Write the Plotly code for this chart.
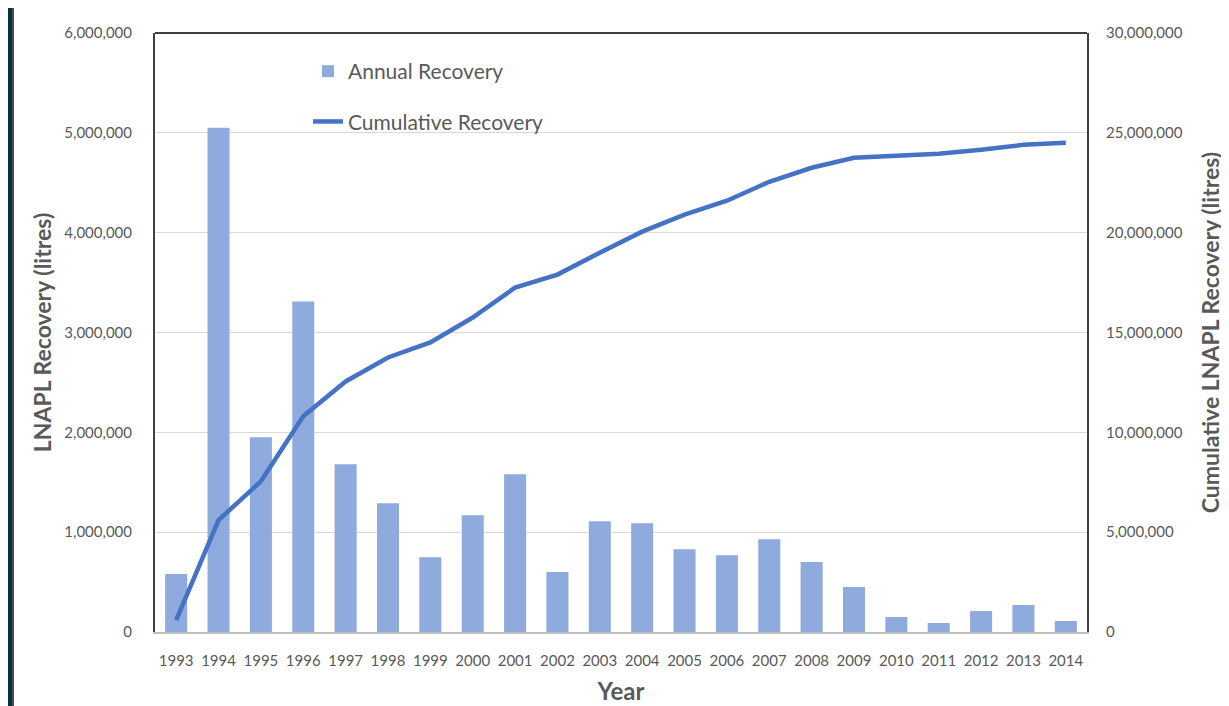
import plotly.graph_objects as go

BAR_COLOR = "#8FAADC"
LINE_COLOR = "#4472C4"
TEXT = "#595959"
FRAME = "#03343F"

years = [str(y) for y in range(1993, 2015)]

annual_recovery = [
    580000, 5050000, 1950000, 3310000, 1680000, 1290000, 750000, 1170000,
    1580000, 600000, 1110000, 1090000, 830000, 770000, 930000, 700000,
    450000, 150000, 90000, 210000, 270000, 110000,
]

cumulative_recovery = [
    600000, 5600000, 7550000, 10800000, 12550000, 13750000, 14500000, 15750000,
    17250000, 17900000, 19000000, 20050000, 20900000, 21600000, 22550000, 23250000,
    23750000, 23850000, 23950000, 24150000, 24400000, 24500000,
]

fig = go.Figure()

fig.add_trace(go.Bar(
    x=years,
    y=annual_recovery,
    name="Annual Recovery",
    marker=dict(color=BAR_COLOR, line=dict(width=0)),
    legendgroup="a",
))

fig.add_trace(go.Scatter(
    x=years,
    y=cumulative_recovery,
    name="Cumulative Recovery",
    mode="lines",
    line=dict(color=LINE_COLOR, width=4.5),
    yaxis="y2",
    legendgroup="b",
))

# page body has an 8px margin, so the figure is drawn 8px in from the corner
OFF = 8
W, H = 1229 - OFF, 706 - OFF
L, R, T, B = 155 - OFF, 1229 - 1087, 33 - OFF, 706 - 632
pw = W - L - R
ph = H - T - B


def px_x(v):
    return (v - OFF - L) / pw


def px_y(v):
    return (H - B - (v - OFF)) / ph


fig.update_layout(
    width=W,
    height=H,
    paper_bgcolor=FRAME,
    plot_bgcolor="white",
    font=dict(family="Lato", color=TEXT, size=15),
    margin=dict(l=L, r=R, t=T, b=B, autoexpand=False),
    bargap=0.48,
    showlegend=True,
    legend=dict(
        x=px_x(308),
        y=px_y(51),
        xanchor="left",
        yanchor="top",
        bgcolor="rgba(0,0,0,0)",
        font=dict(size=21, color=TEXT),
        tracegroupgap=20,
        itemwidth=30,
    ),
    xaxis=dict(
        automargin=False,
        showline=True,
        linecolor="#BFBFBF",
        linewidth=2,
        ticks="",
        ticklabelstandoff=14,
        tickfont=dict(size=15, color=TEXT),
        title=dict(text="<b>Year</b>", font=dict(size=24, color=TEXT), standoff=15),
    ),
    yaxis=dict(
        automargin=False,
        range=[0, 6000000],
        dtick=1000000,
        tickformat=",",
        showgrid=True,
        gridcolor="#D9D9D9",
        gridwidth=1,
        zeroline=False,
        showline=True,
        linecolor="#404040",
        linewidth=2,
        ticklabelstandoff=18,
        tickfont=dict(size=15, color=TEXT),
        title=dict(text="<b>LNAPL Recovery (litres)</b>", font=dict(size=23, color=TEXT), standoff=6),
    ),
    yaxis2=dict(
        automargin=False,
        overlaying="y",
        side="right",
        range=[0, 30000000],
        dtick=5000000,
        tickformat=",",
        showgrid=False,
        zeroline=False,
        showline=True,
        linecolor="#404040",
        linewidth=2,
        ticklabelstandoff=14,
        tickfont=dict(size=15, color=TEXT),
        title=dict(text="<b>Cumulative LNAPL Recovery (litres)</b>", font=dict(size=23, color=TEXT), standoff=21),
    ),
    shapes=[
        dict(
            type="rect", xref="paper", yref="paper", layer="below",
            x0=px_x(13), x1=px_x(1240), y0=px_y(-10), y1=px_y(720),
            fillcolor="white", line=dict(color="#4A4A4A", width=2),
        ),
        dict(
            type="line", xref="paper", yref="paper",
            x0=0, x1=1, y0=1, y1=1,
            line=dict(color="#404040", width=2),
        ),
    ],
)

fig.write_html("out.html")
